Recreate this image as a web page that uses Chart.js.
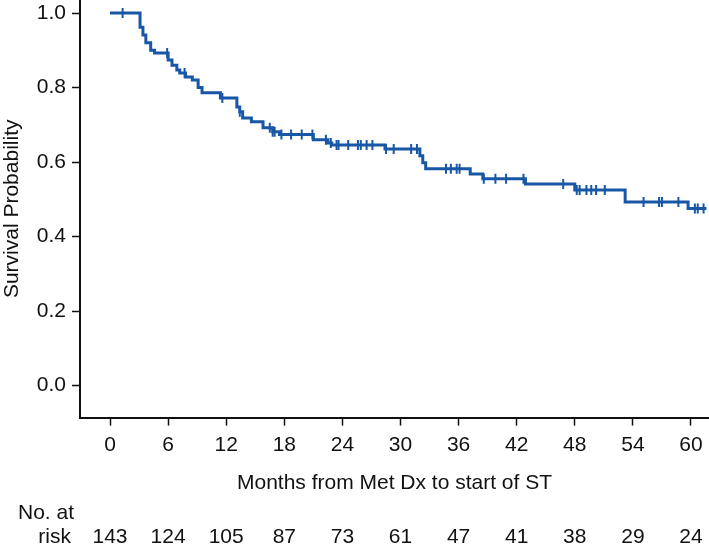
<!DOCTYPE html>
<html>
<head>
<meta charset="utf-8">
<script src="https://cdn.jsdelivr.net/npm/chart.js@4/dist/chart.umd.min.js"></script>
<style>
  html, body { margin: 0; padding: 0; background: #ffffff; }
  #wrap { width: 709px; height: 548px; }
</style>
</head>
<body>
<div id="wrap"><canvas id="kmGraph"></canvas></div>
<script>
// ------------ //
//  CHART DATA  //
// ------------ //

// Kaplan-Meier steps: time (months) and survival after the drop
var stepTimes = [0, 3.1, 3.4, 3.7, 4.2, 4.6, 6.0, 6.4, 6.9, 7.2, 7.8, 8.5, 9.1, 9.5,
  11.4, 13.1, 13.4, 13.7, 14.6, 15.8, 16.8, 17.5, 21.0, 22.5, 22.9, 28.4, 32.0,
  32.3, 32.6, 37.2, 38.5, 42.9, 48.0, 53.2, 59.7, 61.6];
var stepSurv = [1.0, 0.962, 0.941, 0.92, 0.90, 0.893, 0.874, 0.86, 0.847, 0.839, 0.828,
  0.82, 0.80, 0.786, 0.772, 0.748, 0.735, 0.718, 0.708, 0.692, 0.681, 0.674, 0.66,
  0.651, 0.646, 0.635, 0.617, 0.598, 0.582, 0.568, 0.555, 0.541, 0.525, 0.493,
  0.475, 0.475];

// Censored observations (months)
var censorTimes = [1.3, 5.9, 7.7, 11.6, 13.4, 16.5, 16.8, 17.0, 17.7, 18.7, 19.8, 20.9,
  22.3, 22.8, 23.4, 23.6, 24.6, 25.6, 25.9, 26.5, 27.1, 28.5, 29.3, 31.1, 31.7,
  34.7, 35.2, 35.8, 36.1, 38.6, 39.8, 40.9, 42.7, 46.8, 48.2, 48.5, 49.2, 49.7,
  50.2, 51.1, 55.1, 56.7, 57.0, 58.7, 60.4, 60.7, 61.3];

// Axis ticks and number at risk table
var xTicks = [0, 6, 12, 18, 24, 30, 36, 42, 48, 54, 60];
var yTicks = [0.0, 0.2, 0.4, 0.6, 0.8, 1.0];
var atRisk = [143, 124, 105, 87, 73, 61, 47, 41, 38, 29, 24];


// ------------------ //
//  HELPER FUNCTIONS  //
// ------------------ //

// Survival value of the step curve at a given time
function survivalAt(t)
{
  var s = stepSurv[0];
  for (var i = 0; i < stepTimes.length; i++)
  {
    if (stepTimes[i] <= t) s = stepSurv[i];
  }
  return s;
}

// Stop the scales from padding the chart area for their edge labels
function noEdgePadding(scale)
{
  scale.paddingTop = 0;
  scale.paddingBottom = 0;
  scale.paddingLeft = 0;
  scale.paddingRight = 0;
}

var FONT = "'Liberation Sans', Arial, sans-serif";
var BLUE = "#1757a6";

// Draws the "No. at risk" rows under the x axis title
var riskTablePlugin = {
  id: "riskTable",
  afterDraw: function (chart) {
    var ctx = chart.ctx;
    var xScale = chart.scales.x;
    ctx.save();
    ctx.fillStyle = "#111111";
    ctx.font = "21px " + FONT;
    ctx.textBaseline = "middle";
    ctx.textAlign = "left";
    ctx.fillText("No. at", 18, 513);
    ctx.textAlign = "right";
    ctx.fillText("risk", 71, 537);
    ctx.textAlign = "center";
    for (var i = 0; i < xTicks.length; i++)
    {
      ctx.fillText(String(atRisk[i]), xScale.getPixelForValue(xTicks[i]), 537);
    }
    ctx.restore();
  }
};


// ----------- //
//  THE CHART  //
// ----------- //

var curvePoints = stepTimes.map(function (t, i) { return { x: t, y: stepSurv[i] }; });
var censorPoints = censorTimes.map(function (t) { return { x: t, y: survivalAt(t) }; });

new Chart(document.getElementById("kmGraph"), {
  type: "line",
  data: {
    datasets: [{
      label: "Survival",
      data: curvePoints,
      stepped: true,
      borderColor: BLUE,
      borderWidth: 3,
      pointRadius: 0,
      fill: false
    }, {
      label: "Censored",
      type: "scatter",
      data: censorPoints,
      pointStyle: "line",
      rotation: 90,
      radius: 5,
      borderColor: BLUE,
      borderWidth: 2,
      showLine: false
    }]
  },
  options: {
    responsive: true,
    maintainAspectRatio: false,
    animation: false,
    layout: { autoPadding: false, padding: { left: 0, right: 0, top: 0, bottom: 52 } },
    plugins: {
      legend: { display: false },
      tooltip: { enabled: false }
    },
    scales: {
      x: {
        type: "linear",
        min: -3.1,
        max: 61.86,
        afterBuildTicks: function (scale) {
          scale.ticks = xTicks.map(function (v) { return { value: v }; });
        },
        afterFit: noEdgePadding,
        grid: { drawOnChartArea: false, tickLength: 8, color: "#111111", tickWidth: 1.5 },
        border: { color: "#111111", width: 2 },
        ticks: {
          color: "#111111",
          padding: 7,
          maxRotation: 0,
          font: { family: FONT, size: 21 }
        },
        title: {
          display: true,
          text: "Months from Met Dx to start of ST",
          color: "#111111",
          padding: { top: 6, bottom: 0 },
          font: { family: FONT, size: 21 }
        }
      },
      y: {
        min: -0.086,
        max: 1.035,
        afterBuildTicks: function (scale) {
          scale.ticks = yTicks.map(function (v) { return { value: v }; });
        },
        afterFit: function (scale) {
          noEdgePadding(scale);
          scale.width = 80;
        },
        grid: { drawOnChartArea: false, tickLength: 8, color: "#111111", tickWidth: 1.5 },
        border: { color: "#111111", width: 2 },
        ticks: {
          color: "#111111",
          padding: 6,
          font: { family: FONT, size: 21 },
          callback: function (v) { return Number(v).toFixed(1); }
        },
        title: {
          display: true,
          text: "Survival Probability",
          color: "#111111",
          padding: { top: 0, bottom: 0 },
          font: { family: FONT, size: 21 }
        }
      }
    }
  },
  plugins: [riskTablePlugin]
});
</script>
</body>
</html>
